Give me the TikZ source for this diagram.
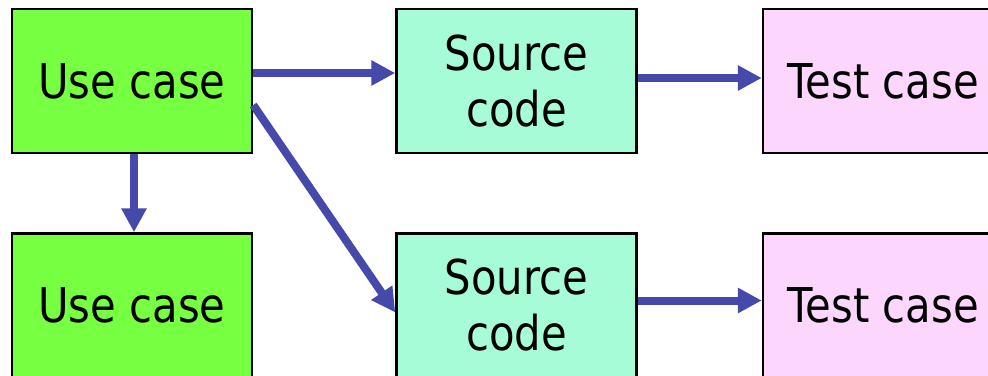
\documentclass[tikz,border=0pt]{standalone}
\usepackage{fontspec}
\setmainfont{DejaVu Sans}[FakeStretch=0.87]
\usepackage{tikz}
\usetikzlibrary{arrows.meta,positioning}
\usepackage{xcolor}
\definecolor{caseGreen}{HTML}{77FF42}
\definecolor{codeAqua}{HTML}{A6FCD6}
\definecolor{testPink}{HTML}{FDD6FD}
\definecolor{flowBlue}{HTML}{4449AA}

\begin{document}
\begin{tikzpicture}[x=1pt, y=-1pt,
        box/.style={rectangle, draw=black, line width=2.5pt, minimum width=240pt, minimum height=144pt, align=center, inner sep=0pt, font=\fontsize{48}{56}\selectfont},
        usebox/.style={box, fill=caseGreen},
        srcbox/.style={box, fill=codeAqua},
        testbox/.style={box, fill=testPink},
        flow/.style={-{Triangle[length=24pt, width=24pt]}, line width=8pt, flowBlue}]

        \useasboundingbox (0,0) rectangle (988,375);

        \node [usebox] (use1) at (132,81) {Use case};
        \node [srcbox, right=142pt of use1] (src1) {Source\\code};
        \node [testbox, right=124pt of src1] (test1) {Test case};

        \node [usebox, below=78pt of use1] (use2) {Use case};
        \node [srcbox, right=142pt of use2] (src2) {Source\\code};
        \node [testbox, right=124pt of src2] (test2) {Test case};

        \draw [flow] ([yshift=8pt]use1.east) -- ([yshift=8pt]src1.west);
        \draw [flow] ([yshift=3pt]src1.east) -- ([yshift=3pt]test1.west);
        \draw [flow] ([xshift=2pt]use1.south) -- ([xshift=2pt]use2.north);
        \draw [flow] ([yshift=-24pt]use1.east) -- ([yshift=-7pt]src2.west);
        \draw [flow] ([yshift=5pt]src2.east) -- ([yshift=5pt]test2.west);
    \end{tikzpicture}
\end{document}
